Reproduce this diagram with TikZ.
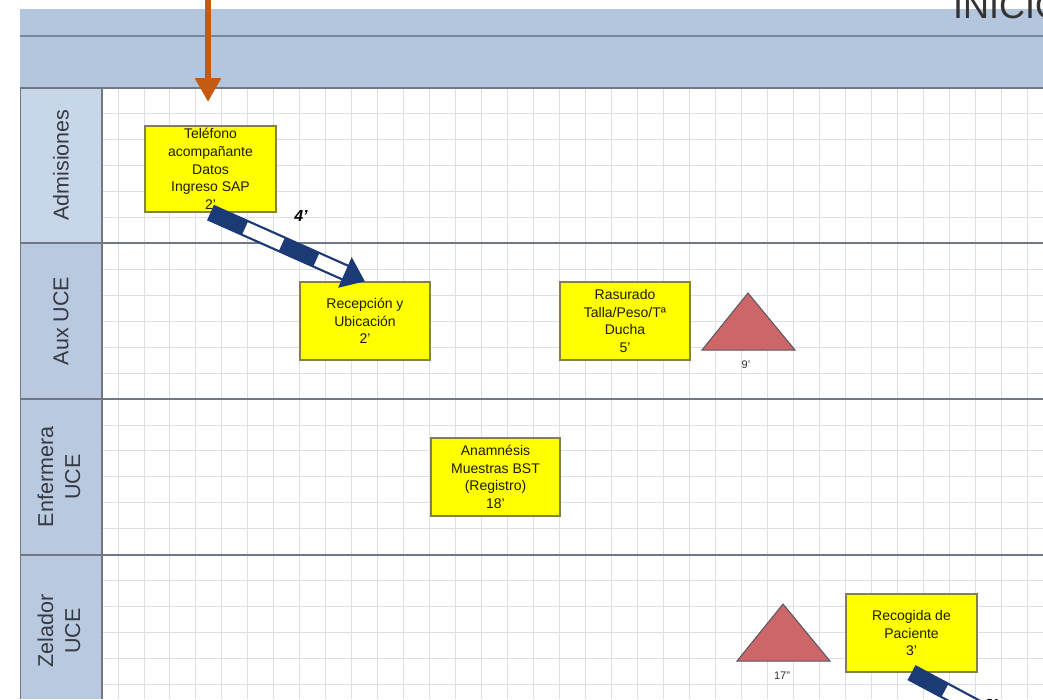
\documentclass[tikz,border=0pt]{standalone}
\usepackage{fontspec}
\setmainfont{Liberation Sans}
\usetikzlibrary{arrows.meta}
\definecolor{hdr}{RGB}{180,198,222}
\definecolor{hdrline}{RGB}{118,134,158}
\definecolor{lanecol}{RGB}{184,201,224}
\definecolor{lanelight}{RGB}{200,214,234}
\definecolor{laneline}{RGB}{112,120,134}
\definecolor{gridcol}{RGB}{220,223,228}
\definecolor{boxline}{RGB}{130,130,70}
\definecolor{taskyellow}{RGB}{255,255,0}
\definecolor{trifill}{RGB}{205,102,102}
\definecolor{triline}{RGB}{85,85,105}
\definecolor{arrowblue}{RGB}{28,58,118}
\definecolor{orangearrow}{RGB}{197,90,17}
\definecolor{lanetext}{RGB}{55,58,66}
\definecolor{tasktext}{RGB}{30,30,0}
\tikzset{
  task/.style={draw=boxline, fill=taskyellow, line width=1.2pt, inner sep=0pt,
    align=center, text=tasktext, font=\fontsize{14}{17.8}\selectfont},
  lanelabel/.style={rotate=90, align=center, text=lanetext,
    font=\fontsize{21.5}{27}\selectfont},
  tri/.style={fill=trifill, draw=triline, line width=1pt, line join=miter},
  trilabel/.style={font=\fontsize{11}{12}\selectfont, text=black!80},
  striped/.style={arrowblue, line width=17pt,
    -{Triangle[length=22pt,width=32pt]}},
  stripes/.style={white, line width=12.5pt,
    dash pattern=on 0pt off 38pt on 40pt off 38pt on 31pt off 300pt},
  timelabel/.style={font=\bfseries\itshape\fontsize{16}{18}\selectfont}
}
\begin{document}
\begin{tikzpicture}[x=1pt,y=-1pt]
\useasboundingbox (0,0) rectangle (1043,699);
\fill[white] (0,0) rectangle (1043,699);
% header band
\fill[hdr] (20,9) rectangle (1043,88);
\draw[hdrline, line width=2pt] (20,36) -- (1043,36);
\begin{scope}
\clip (20,0) rectangle (1043,36);
\node[anchor=base west, text=black!80, font=\fontsize{36}{40}\selectfont, inner sep=0pt] (inicio) at (953,18) {INICIO};
\end{scope}
% lane label column
\fill[lanecol] (20,88) rectangle (102,699);
\fill[lanelight] (20,88) rectangle (102,243);
% grid
\begin{scope}
\clip (102,88) rectangle (1043,699);
\foreach \i in {-1,...,36} \draw[gridcol, line width=0.9pt] ({118+25.97*\i},88) -- ++(0,611);
\foreach \j in {0,...,24} \draw[gridcol, line width=0.9pt] (102,{88+25.92*\j}) -- ++(941,0);
\end{scope}
% lane separators
\foreach \yy in {88,243,399,555} \draw[laneline, line width=1.6pt] (20,\yy) -- (1043,\yy);
\draw[laneline, line width=1.6pt] (102,88) -- (102,699);
\draw[laneline, line width=1pt] (20,88) -- (20,699);
% lane labels
\node[lanelabel] (l1) at (61,165) {Admisiones};
\node[lanelabel] (l2) at (61,321) {Aux UCE};
\node[lanelabel] (l3) at (59,477) {Enfermera\\UCE};
\node[lanelabel] (l4) at (59,631) {Zelador\\UCE};
% tasks
\node[task, minimum width=131pt, minimum height=86pt] (t1) at (210.5,169) {Teléfono\\acompañante\\Datos\\Ingreso SAP\\2'};
\node[task, minimum width=130pt, minimum height=78pt] (t2) at (365,321) {Recepción y\\Ubicación\\2'};
\node[task, minimum width=130pt, minimum height=78pt] (t3) at (625,321) {Rasurado\\Talla/Peso/Tª\\Ducha\\5'};
\node[task, minimum width=129pt, minimum height=78pt] (t4) at (495.5,477) {Anamnésis\\Muestras BST\\(Registro)\\18'};
\node[task, minimum width=131pt, minimum height=78pt] (t5) at (911.5,633) {Recogida de\\Paciente\\3'};
% waits (triangles)
\draw[tri] (748,293) -- (795,350) -- (702,350) -- cycle;
\node[trilabel] (w1l) at (746,365) {9'};
\draw[tri] (783,604) -- (830,661) -- (737,661) -- cycle;
\node[trilabel] (w2l) at (782,676) {17''};
% striped transfer arrows
\draw[striped] (t1.south) -- (t2.north);
\draw[stripes] (t1.south) -- (t2.north);
\node[timelabel] (d1) at (301,216) {4'};
\coordinate (out1) at (1060,752);
\draw[striped] (t5.south) -- (out1);
\draw[stripes] (t5.south) -- (out1);
\node[timelabel] (d2) at (991,705) {3'};
% orange start arrow
\coordinate (o0) at (208,-5);
\coordinate (o1) at (208,102);
\draw[orangearrow, line width=6pt, -{Triangle[length=24pt,width=25pt]}] (o0) -- (o1);
\end{tikzpicture}
\end{document}
